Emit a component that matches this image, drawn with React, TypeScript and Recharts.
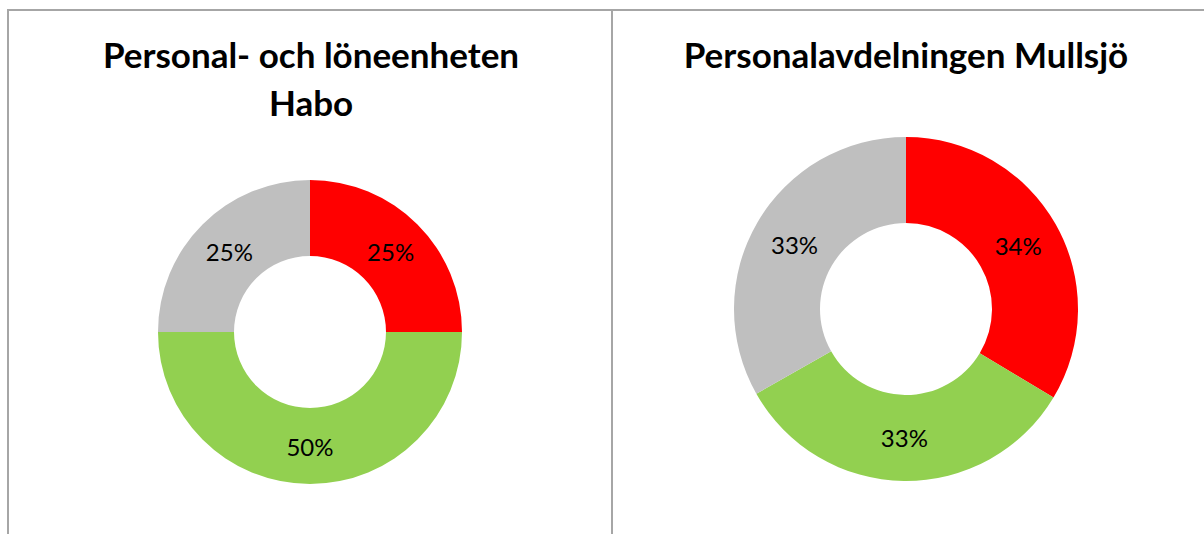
import React from "react";
import { PieChart, Pie, Cell } from "recharts";

const categories = ["Röd", "Grön", "Grå"];
const haboValues = [25, 50, 25];
const mullsjoValues = [33.6, 33.2, 33.2];
const colors = ["#FF0000", "#92D050", "#BFBFBF"];
const haboTitle = ["Personal- och löneenheten", "Habo"];
const mullsjoTitle = ["Personalavdelningen Mullsjö"];

const RAD = Math.PI / 180;
const FONT = "Lato, 'Liberation Sans', sans-serif";

const renderLabel = (props: any) => {
  const { cx, cy, midAngle, innerRadius, outerRadius, value } = props;
  const r = (innerRadius + outerRadius) / 2;
  const x = cx + r * Math.cos(-midAngle * RAD);
  const y = cy + r * Math.sin(-midAngle * RAD);
  return (
    <text
      x={x}
      y={y}
      textAnchor="middle"
      dominantBaseline="central"
      fill="#000"
      fontSize={24}
      fontFamily={FONT}
    >
      {Math.round(value)}%
    </text>
  );
};

const toData = (vals: number[]) =>
  categories.map((name, i) => ({ name, value: vals[i] }));

const Donut = ({
  values,
  width,
  height,
  cx,
  cy,
  inner,
  outer,
}: {
  values: number[];
  width: number;
  height: number;
  cx: number;
  cy: number;
  inner: number;
  outer: number;
}) => (
  <PieChart width={width} height={height} margin={{ top: 0, right: 0, bottom: 0, left: 0 }}>
    <Pie
      data={toData(values)}
      dataKey="value"
      nameKey="name"
      cx={cx}
      cy={cy}
      innerRadius={inner}
      outerRadius={outer}
      startAngle={90}
      endAngle={-270}
      stroke="none"
      label={renderLabel}
      labelLine={false}
      isAnimationActive={false}
    >
      {values.map((_, i) => (
        <Cell key={i} fill={colors[i]} />
      ))}
    </Pie>
  </PieChart>
);

const titleStyle: React.CSSProperties = {
  position: "absolute",
  textAlign: "center",
  fontFamily: FONT,
  fontWeight: 700,
  fontSize: 35,
  lineHeight: "48px",
  color: "#000",
  whiteSpace: "nowrap",
};

export default function App() {
  return (
    <div
      style={{
        position: "absolute",
        left: 0,
        top: 0,
        width: 1204,
        height: 534,
        overflow: "hidden",
        background: "#fff",
      }}
    >
      {/* panel borders */}
      <div
        style={{
          position: "absolute",
          left: 7,
          top: 9,
          width: 606,
          height: 600,
          borderLeft: "2px solid #A6A6A6",
          borderTop: "2px solid #A6A6A6",
          borderRight: "2px solid #A6A6A6",
          boxSizing: "border-box",
        }}
      />
      <div
        style={{
          position: "absolute",
          left: 611,
          top: 9,
          width: 700,
          height: 600,
          borderTop: "2px solid #A6A6A6",
          boxSizing: "border-box",
        }}
      />
      {/* titles */}
      <div style={{ ...titleStyle, left: 11, width: 600, top: 30 }}>
        {haboTitle.map((t, i) => (
          <div key={i}>{t}</div>
        ))}
      </div>
      <div style={{ ...titleStyle, left: 614, width: 584, top: 30 }}>
        {mullsjoTitle.map((t, i) => (
          <div key={i}>{t}</div>
        ))}
      </div>
      {/* charts */}
      <div style={{ position: "absolute", left: 0, top: 0 }}>
        <Donut values={haboValues} width={612} height={534} cx={310} cy={332} inner={76} outer={152} />
      </div>
      <div style={{ position: "absolute", left: 614, top: 0 }}>
        <Donut values={mullsjoValues} width={590} height={534} cx={292} cy={309} inner={86} outer={172} />
      </div>
    </div>
  );
}
